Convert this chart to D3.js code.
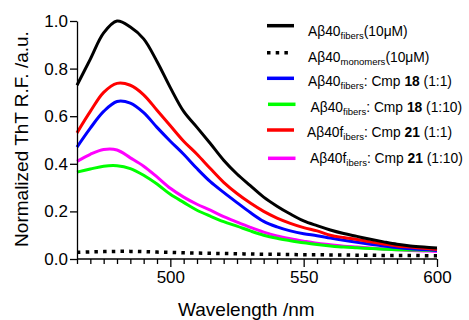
<!DOCTYPE HTML>
<html>
<head>
	<meta charset="utf-8">
	<style>
		body { margin: 0; background: #fff; }
		svg { font-family: "Liberation Sans", Arial, sans-serif; }
		.line { fill: none; stroke-width: 3px; stroke-linejoin: round; }
		.axis path, .axis line { stroke: #000; stroke-width: 1.3px; }
		.axis text { font-size: 17px; fill: #000; }
		.legend text { font-size: 13.8px; fill: #000; }
	</style>
	<script src="https://cdn.jsdelivr.net/npm/d3@7/dist/d3.min.js"></script>
</head>
<body>
<script>
	// wavelengths (nm)
	var wavelengths = [465,470,475,480,485,490,495,500,505,510,515,520,525,530,535,540,545,550,555,560,565,570,575,580,585,590,595,600];

	var fibers    = [0.73,0.84,0.95,1.0,0.975,0.925,0.83,0.72,0.62,0.553,0.485,0.415,0.357,0.308,0.26,0.222,0.189,0.16,0.14,0.122,0.107,0.095,0.083,0.072,0.062,0.055,0.05,0.046];
	var monomers  = [0.028,0.03,0.031,0.032,0.032,0.031,0.029,0.028,0.026,0.025,0.024,0.023,0.022,0.021,0.02,0.02,0.019,0.018,0.018,0.017,0.017,0.016,0.016,0.015,0.015,0.015,0.014,0.014];
	var cmp18_1   = [0.47,0.55,0.62,0.662,0.655,0.615,0.553,0.495,0.44,0.38,0.325,0.28,0.237,0.195,0.158,0.135,0.118,0.106,0.098,0.088,0.079,0.07,0.062,0.055,0.048,0.043,0.04,0.036];
	var cmp18_10  = [0.365,0.378,0.39,0.392,0.38,0.352,0.315,0.272,0.238,0.205,0.18,0.157,0.138,0.118,0.1,0.087,0.077,0.068,0.061,0.055,0.05,0.047,0.044,0.041,0.039,0.038,0.037,0.036];
	var cmp21_1   = [0.53,0.62,0.7,0.738,0.73,0.69,0.625,0.56,0.495,0.44,0.38,0.322,0.275,0.235,0.2,0.172,0.15,0.132,0.118,0.1,0.09,0.082,0.072,0.063,0.055,0.05,0.045,0.04];
	var cmp21_10  = [0.41,0.44,0.46,0.458,0.425,0.39,0.345,0.297,0.26,0.23,0.205,0.178,0.155,0.133,0.113,0.097,0.085,0.075,0.066,0.06,0.054,0.05,0.046,0.042,0.039,0.036,0.034,0.032];

	var xTicks = [500, 550, 600];
	var yTicks = [0.0, 0.2, 0.4, 0.6, 0.8, 1.0];

	var series = [
		{key: "cmp21_10", values: cmp21_10, color: "#ff00ff"},
		{key: "cmp18_10", values: cmp18_10, color: "#00ff00"},
		{key: "cmp18_1",  values: cmp18_1,  color: "#0000ff"},
		{key: "cmp21_1",  values: cmp21_1,  color: "#ff0000"},
		{key: "fibers",   values: fibers,   color: "#000000"},
		{key: "monomers", values: monomers, color: "#000000", dotted: true}
	];

	var margin = {top: 21, right: 32, bottom: 61, left: 77};
	var width = 469 - margin.left - margin.right;
	var height = 320 - margin.top - margin.bottom;

	var x = d3.scaleLinear().domain([465, 600]).range([0, width]);
	var y = d3.scaleLinear().domain([0, 1.0]).range([height, 0]);

	var svg = d3.select("body").append("svg")
		.attr("width", 469)
		.attr("height", 320)
		.append("g")
		.attr("transform", "translate(" + margin.left + "," + margin.top + ")");

	var valueline = d3.line()
		.x(function(d) { return x(d[0]); })
		.y(function(d) { return y(d[1]); })
		.curve(d3.curveCatmullRom.alpha(0.5));

	series.forEach(function(s) {
		var pts = wavelengths.map(function(w, i) { return [w, s.values[i]]; });
		var p = svg.append("path")
			.datum(pts)
			.attr("class", "line")
			.style("stroke", s.color)
			.attr("d", valueline);
		if (s.dotted) p.style("stroke-dasharray", "3.5,5.2").style("stroke-width", "3.5px");
	});

	// x axis: minor ticks every 5 nm, major labelled
	var minor = d3.range(465, 601, 5).filter(function(v) { return xTicks.indexOf(v) < 0; });
	var xg = svg.append("g").attr("class", "axis")
		.attr("transform", "translate(0," + height + ")");
	xg.call(d3.axisBottom(x).tickValues(minor).tickSize(5).tickFormat("").tickSizeOuter(0));
	xg.select(".domain").remove();
	var xg2 = svg.append("g").attr("class", "axis")
		.attr("transform", "translate(0," + height + ")")
		.call(d3.axisBottom(x).tickValues(xTicks).tickSize(8).tickSizeOuter(0).tickPadding(4).tickFormat(d3.format("d")));
	xg2.select(".domain").attr("d", "M0,0H" + width);

	var yg = svg.append("g").attr("class", "axis")
		.call(d3.axisLeft(y).tickValues(yTicks).tickSize(7).tickSizeOuter(0).tickPadding(2).tickFormat(d3.format(".1f")));

	svg.append("text")
		.attr("x", x(528.5))
		.attr("y", 316 - margin.top)
		.attr("text-anchor", "middle")
		.style("font-size", "19px")
		.text("Wavelength /nm");

	svg.append("text")
		.attr("transform", "translate(" + (28 - margin.left) + "," + (139 - margin.top) + ") rotate(-90)")
		.attr("text-anchor", "middle")
		.style("font-size", "19px")
		.text("Normalized ThT R.F. /a.u.");

	// legend
	var legendRows = [
		{color: "#000", lineY: 25.7, x1: 267, x2: 294, textX: 308, textY: 36, dotted: false,
			parts: [["Aβ40"], ["fibers", "sub"], ["(10μM)"]]},
		{color: "#000", lineY: 52.7, x1: 267, x2: 289, textX: 308, textY: 61.7, dotted: true,
			parts: [["Aβ40"], ["monomers", "sub"], ["(10μM)"]]},
		{color: "#0000ff", lineY: 78.3, x1: 267, x2: 294, textX: 308, textY: 86,
			parts: [["Aβ40"], ["fibers", "sub"], [": Cmp "], ["18", "b"], [" (1:1)"]]},
		{color: "#00ff00", lineY: 104.3, x1: 268, x2: 295.5, textX: 310.5, textY: 111.7,
			parts: [["Aβ40"], ["fibers", "sub"], [": Cmp "], ["18", "b"], [" (1:10)"]]},
		{color: "#ff0000", lineY: 130, x1: 267, x2: 294, textX: 307, textY: 136.7,
			parts: [["Aβ40f"], ["ibers", "sub"], [": Cmp "], ["21", "b"], [" (1:1)"]]},
		{color: "#ff00ff", lineY: 158.3, x1: 268, x2: 295.5, textX: 310, textY: 163.3,
			parts: [["Aβ40f"], ["ibers", "sub"], [": Cmp "], ["21", "b"], [" (1:10)"]]}
	];

	var legend = d3.select("svg").append("g").attr("class", "legend");
	legendRows.forEach(function(r) {
		var l = legend.append("line")
			.attr("x1", r.x1).attr("x2", r.x2)
			.attr("y1", r.lineY).attr("y2", r.lineY)
			.style("stroke", r.color).style("stroke-width", "3.5px");
		if (r.dotted) l.style("stroke-dasharray", "3.5,5.2");
		var t = legend.append("text").attr("x", r.textX).attr("y", r.textY);
		var shifted = false;
		r.parts.forEach(function(p) {
			var ts = t.append("tspan").text(p[0]);
			if (p[1] === "sub") {
				ts.style("font-size", "9.5px").attr("dy", 3);
				shifted = true;
			} else {
				if (shifted) { ts.attr("dy", -3); shifted = false; }
				if (p[1] === "b") ts.style("font-weight", "bold");
			}
		});
	});
</script>
</body>
</html>
